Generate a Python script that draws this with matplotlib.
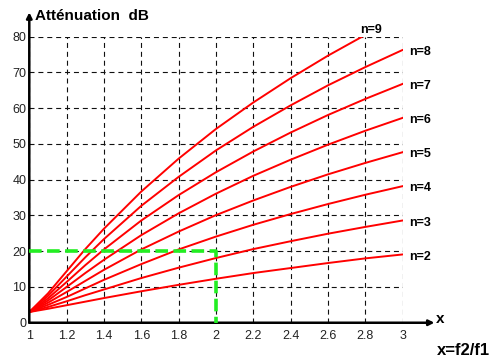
import matplotlib.pyplot as plt

plt.rcParams['font.family'] = ['Liberation Sans', 'DejaVu Sans']

# frequency ratio x = f2/f1
x = [1.0, 1.1, 1.2, 1.3, 1.4, 1.6, 1.8, 2.0, 2.2, 2.4, 2.6, 2.8, 3.0]

# attenuation (dB), one list per order n
att_n2 = [3.0, 3.9, 4.9, 5.9, 6.9, 8.8, 10.6, 12.3, 13.9, 15.3, 16.7, 18.0, 19.1]
att_n3 = [3.0, 4.4, 6.0, 7.7, 9.3, 12.5, 15.4, 18.1, 20.6, 22.8, 24.9, 26.8, 28.6]
att_n4 = [3.0, 5.0, 7.2, 9.6, 12.0, 16.4, 20.5, 24.1, 27.4, 30.4, 33.2, 35.8, 38.2]
att_n5 = [3.0, 5.6, 8.6, 11.7, 14.8, 20.5, 25.5, 30.1, 34.2, 38.0, 41.5, 44.7, 47.7]
att_n6 = [3.0, 6.2, 10.0, 13.9, 17.6, 24.5, 30.6, 36.1, 41.1, 45.6, 49.8, 53.7, 57.3]
att_n7 = [3.0, 6.8, 11.4, 16.1, 20.5, 28.6, 35.7, 42.1, 47.9, 53.2, 58.1, 62.6, 66.8]
att_n8 = [3.0, 7.5, 12.9, 18.3, 23.4, 32.7, 40.8, 48.2, 54.8, 60.8, 66.4, 71.5, 76.3]
att_n9 = [3.0, 8.2, 14.4, 20.6, 26.3, 36.7, 45.9, 54.2, 61.6, 68.4, 74.7, 80.5, 86.0]

curves = {2: att_n2, 3: att_n3, 4: att_n4, 5: att_n5,
          6: att_n6, 7: att_n7, 8: att_n8, 9: att_n9}

# example reading: x = 2 -> 20 dB
ex_x = [1.0, 2.0, 2.0]
ex_y = [20, 20, 0]

xticks = [1, 1.2, 1.4, 1.6, 1.8, 2, 2.2, 2.4, 2.6, 2.8, 3]
xticklabels = ['1', '1.2', '1.4', '1.6', '1.8', '2', '2.2', '2.4', '2.6', '2.8', '3']
yticks = [0, 10, 20, 30, 40, 50, 60, 70, 80]

fig = plt.figure(figsize=(4.93, 3.59), dpi=100)
ax = fig.add_axes([0.0594, 0.101, 0.7574, 0.7968])

for n, a in curves.items():
    ax.plot(x, a, color='red', lw=1.4, zorder=3)
    if n < 9:
        ax.text(3.037, a[-1] - 0.6, 'n=%d' % n, fontsize=9, fontweight='bold',
                va='center', ha='left', clip_on=False)
ax.text(2.83, 80.3, 'n=9', fontsize=9, fontweight='bold', va='bottom', ha='center')

ax.plot(ex_x, ex_y, color='#22ee22', lw=2.6, ls=(0, (3.5, 1.5)), zorder=4, clip_on=False)

ax.set_xlim(1, 3)
ax.set_ylim(0, 80)
ax.set_xticks(xticks)
ax.set_xticklabels(xticklabels)
ax.set_yticks(yticks)
ax.tick_params(length=0, labelsize=9, labelcolor='#222222')
ax.tick_params(axis='x', pad=5)
ax.tick_params(axis='y', pad=2)
ax.grid(True, color='#111111', ls=(0, (4.5, 3.5)), lw=0.8)

for s in ['top', 'right', 'left', 'bottom']:
    ax.spines[s].set_visible(False)

# axes with arrows
ax.annotate('', xy=(0, 1.085), xytext=(0, 0), xycoords='axes fraction',
            arrowprops=dict(arrowstyle='-|>', color='black', lw=1.8,
                            mutation_scale=8, shrinkA=0, shrinkB=0))
ax.annotate('', xy=(1.085, 0), xytext=(0, 0), xycoords='axes fraction',
            arrowprops=dict(arrowstyle='-|>', color='black', lw=1.8,
                            mutation_scale=8, shrinkA=0, shrinkB=0))

fig.text(0.071, 0.955, 'Atténuation  dB', fontsize=11, fontweight='bold', va='center')
fig.text(0.893, 0.111, 'x', fontsize=11, fontweight='bold', va='center', ha='center')
fig.text(0.993, 0.025, 'x=f2/f1', fontsize=12, fontweight='bold', va='center', ha='right')

fig.savefig('out.png', dpi=100)
